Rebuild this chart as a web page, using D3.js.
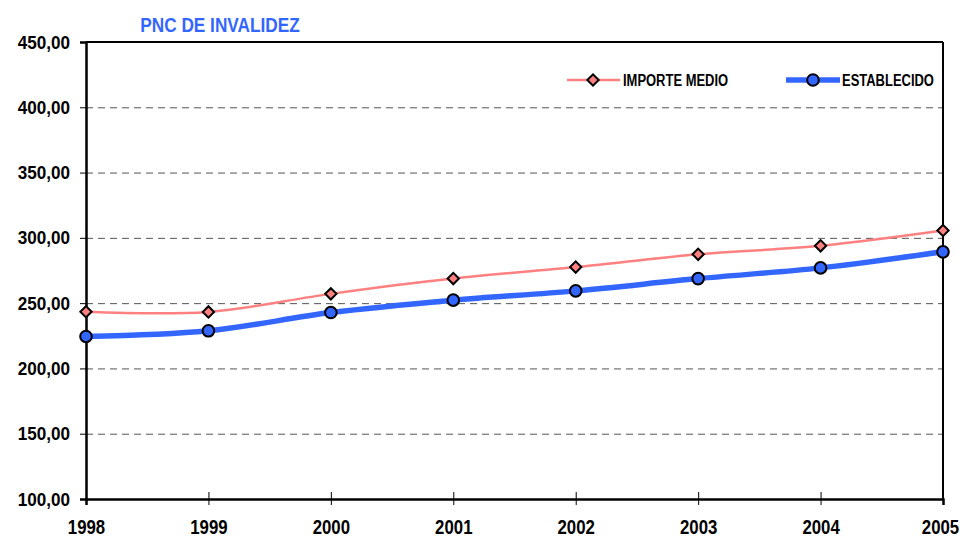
<!DOCTYPE html>
<html>
<head>
<meta charset="utf-8">
<script src="https://cdn.jsdelivr.net/npm/d3@7"></script>
<style>
  html, body { margin: 0; padding: 0; background: #fff; }
  svg { display: block; }
  text { font-family: "Liberation Sans", Arial, sans-serif; font-weight: bold; }
</style>
</head>
<body>
<div id="chart"></div>
<script>
// ── Data ────────────────────────────────────────────────────────────────
const years = [1998, 1999, 2000, 2001, 2002, 2003, 2004, 2005];
const importeMedio = [243.4, 243.3, 257.1, 268.8, 277.6, 287.4, 293.9, 305.6];
const establecido  = [224.5, 228.8, 242.8, 252.3, 259.4, 268.8, 277.0, 289.3];
const yTicks = [100, 150, 200, 250, 300, 350, 400, 450];
const seriesNames = ["IMPORTE MEDIO", "ESTABLECIDO"];
const title = "PNC DE INVALIDEZ";

// ── Palette ─────────────────────────────────────────────────────────────
const PINK = "#ff8080";
const BLUE = "#3366ff";
const GRID = "#555";

const W = 964, H = 539;
const margin = { top: 42, right: 21, bottom: 40, left: 86 };
const width = W - margin.left - margin.right;
const height = H - margin.top - margin.bottom;

// narrow-font look: squeeze the glyphs horizontally
function narrow(sel, k) {
  sel.each(function() {
    const w = this.getComputedTextLength();
    d3.select(this).attr("textLength", w * k).attr("lengthAdjust", "spacingAndGlyphs");
  });
}

const svg = d3.select("#chart").append("svg")
  .attr("width", W).attr("height", H);
const g = svg.append("g").attr("transform", `translate(${margin.left},${margin.top})`);

const x = d3.scaleLinear().domain(d3.extent(years)).range([0, width]);
const y = d3.scaleLinear().domain([100, 450]).range([height, 0]);

const es = d3.formatLocale({ decimal: ",", thousands: ".", grouping: [3], currency: ["", "€"] });
const fmt = es.format(".2f");

// Grid (dashed)
g.append("g")
  .call(d3.axisLeft(y).tickValues(yTicks.slice(1, -1)).tickSize(-width).tickFormat(""))
  .call(s => s.select(".domain").remove())
  .selectAll("line").attr("stroke", GRID).attr("stroke-width", 1).attr("stroke-dasharray", "7,5");

// Frame: top and right
g.append("line").attr("x1", 0).attr("x2", width).attr("y1", 0).attr("y2", 0)
  .attr("stroke", "#000").attr("stroke-width", 2);
g.append("line").attr("x1", width).attr("x2", width).attr("y1", 0).attr("y2", height)
  .attr("stroke", "#000").attr("stroke-width", 2);

// Y axis
const yAxis = g.append("g")
  .call(d3.axisLeft(y).tickValues(yTicks).tickSize(6).tickPadding(10).tickFormat(fmt));
yAxis.select(".domain").attr("stroke", "#000").attr("stroke-width", 2.5);
yAxis.selectAll(".tick line").attr("stroke", "#000").attr("stroke-width", 1);
yAxis.selectAll("text").attr("fill", "#000").style("font-size", "19px").style("font-family", null)
  .call(narrow, 0.9);

// X axis
const xAxis = g.append("g").attr("transform", `translate(0,${height})`)
  .call(d3.axisBottom(x).tickValues(years).tickSize(6).tickPadding(15).tickFormat(d3.format("d")));
xAxis.select(".domain").attr("stroke", "#000").attr("stroke-width", 2.5);
xAxis.selectAll(".tick line").attr("stroke", "#000").attr("stroke-width", 1)
  .attr("y1", (d, i) => (i === 0 || i === years.length - 1) ? 0 : -7);
xAxis.selectAll("text").attr("fill", "#000").style("font-size", "20px").style("font-family", null)
  .call(narrow, 0.84);
// last label: anchor at its right edge so it stays inside the page
xAxis.selectAll(".tick text").filter((d, i) => i === years.length - 1)
  .each(function() {
    const half = +d3.select(this).attr("textLength") / 2;
    d3.select(this).attr("text-anchor", "end").attr("x", half - 3);
  });

// Lines
const curve = d3.curveCatmullRom.alpha(0.5);
const line = d3.line().x((d, i) => x(years[i])).y(d => y(d)).curve(curve);

g.append("path").datum(importeMedio)
  .attr("fill", "none").attr("stroke", PINK).attr("stroke-width", 2.5).attr("d", line);
g.append("path").datum(establecido)
  .attr("fill", "none").attr("stroke", BLUE).attr("stroke-width", 5.5).attr("d", line);

// Markers
const diamond = d3.symbol().type(d3.symbolSquare).size(64);
g.selectAll(".dia").data(importeMedio).enter().append("path")
  .attr("d", diamond)
  .attr("transform", (d, i) => `translate(${x(years[i])},${y(d)}) rotate(45)`)
  .attr("fill", PINK).attr("stroke", "#000").attr("stroke-width", 2);
g.selectAll(".dot").data(establecido).enter().append("circle")
  .attr("cx", (d, i) => x(years[i])).attr("cy", d => y(d)).attr("r", 5.8)
  .attr("fill", BLUE).attr("stroke", "#000").attr("stroke-width", 2);

// Legend
const leg = svg.append("g");
const legY = 80;
const l1 = leg.append("g").attr("transform", "translate(567,0)");
l1.append("line").attr("x1", 0).attr("x2", 53).attr("y1", legY).attr("y2", legY)
  .attr("stroke", PINK).attr("stroke-width", 2.5);
l1.append("path").attr("d", diamond).attr("transform", `translate(26,${legY}) rotate(45)`)
  .attr("fill", PINK).attr("stroke", "#000").attr("stroke-width", 2);
l1.append("text").attr("x", 56).attr("y", legY).attr("dy", "0.36em")
  .style("font-size", "16px").text(seriesNames[0]);

const l2 = leg.append("g").attr("transform", "translate(786,0)");
l2.append("line").attr("x1", 0).attr("x2", 54).attr("y1", legY).attr("y2", legY)
  .attr("stroke", BLUE).attr("stroke-width", 5.5);
l2.append("circle").attr("cx", 27).attr("cy", legY).attr("r", 5.8)
  .attr("fill", BLUE).attr("stroke", "#000").attr("stroke-width", 2);
l2.append("text").attr("x", 56).attr("y", legY).attr("dy", "0.36em")
  .style("font-size", "16px").text(seriesNames[1]);
leg.selectAll("text").call(narrow, 0.81);

// Title
svg.append("text").attr("x", 220).attr("y", 32).attr("text-anchor", "middle")
  .attr("fill", BLUE).style("font-size", "21px").text(title)
  .call(narrow, 0.82);
</script>
</body>
</html>
